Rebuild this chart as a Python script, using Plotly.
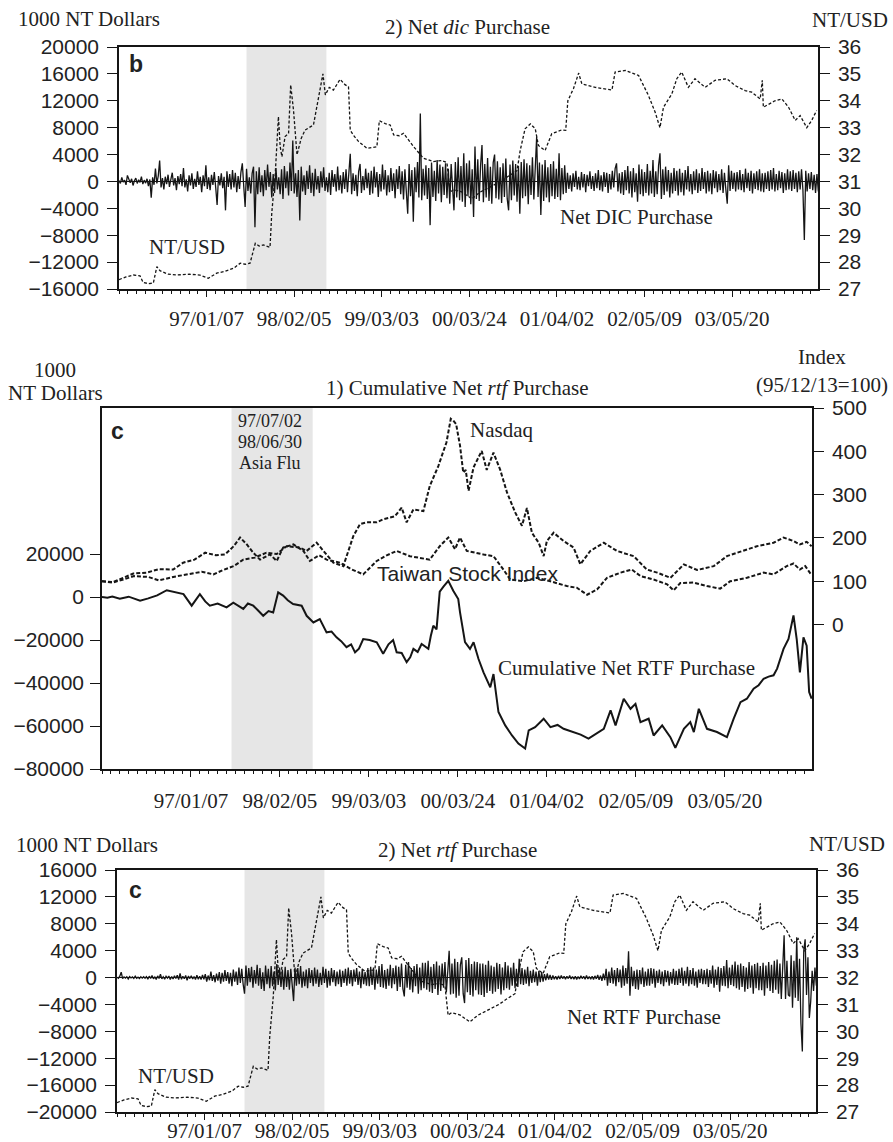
import plotly.graph_objects as go

W, H = 893, 1142

# ---------------- data ----------------
DATE_TICK_OBS = [250, 500, 750, 1000, 1250, 1500, 1750]
DATE_TICK_LABELS = ["97/01/07", "98/02/05", "99/03/03", "00/03/24", "01/04/02", "02/05/09", "03/05/20"]
ASIA_FLU = [364, 592]  # trading-day index of 97/07/02 and 98/06/30

DAILY_STEP = 4
NET_DIC = [
    150, -300, 600, -100, 200, -500, 900, 300, -200, 400, -600, 100, 500, -300, 250, -150, 700, -400, 200, -250,
    400, -700, 300, -2400, 600, -500, 1900, -300, 800, 3100, -900, 500, -1200, 700, -400, 1000, -800, 300, 1300, -600,
    500, -1300, 800, -400, 1100, -700, 2000, -900, 300, -1500, 900, -600, 1200, -1100, 400, -800, 1500, -500, 700, -1600,
    900, -700, 2400, -1100, 600, -1300, 1000, -500, 1400, -900, -3500, 800, -600, 1200, -1000, 700, -4300, 1500, -800, 1100,
    -1200, 1700, -900, 1300, -1600, 800, -1100, 1400, 2700, -700, -3800, 1900, -1400, 600, -1800, 1200, 2200, -6800, 1500, -1900,
    2100, -1600, 900, -2200, 1700, -1300, 2500, -800, 1400, -2400, 1100, -1700, 2000, -1200, 600, -1900, 1800, -2600, 2300, -1000,
    1500, -2100, 2800, -1400, 6100, -1800, 1200, -2300, 1700, -5800, 2200, -1500, 900, -2000, 1600, -1100, 2400, -1700, 1300, -2200,
    1900, -1200, 800, -1700, 1500, -900, 2100, -1400, 600, -1600, 1300, -2000, 1700, -800, 1100, -1500, 2200, -1300, 900, -1800,
    1400, -1100, 1800, -1600, 700, 4100, -1900, 1200, -1400, 1000, -2200, 1500, 2600, -1700, 800, -1300, 1900, -1000, 1300, -2000,
    1600, -1800, 2200, -900, 1400, -2300, 1100, -1500, 2500, -1200, 1700, -2100, 900, -1600, 2000, -1400, 1200, -2500, 1800, -1100,
    2300, -1900, 1500, -2700, 1800, -1300, -4800, 2600, -2200, 1700, -6000, 2100, -1600, 2900, -2400, 10100, -2800, 1900, -2100, 2400,
    -2600, 2000, -6500, 2800, -2300, 1600, -2900, 3200, -1800, 2500, -3100, 2200, -2000, 2700, -2500, 1900, -3300, 2600, -2100, -4300,
    2900, -2400, 3600, -2800, 2300, -3000, 4200, -3800, 2700, -2200, 3100, -3400, 1800, -5300, 5200, -2600, 3300, -2900, 2400, 5400,
    -3100, 2600, -2400, 3500, -2900, 2200, -3300, 2800, 4000, -2500, 3000, -2700, 2100, -3200, 2700, -2300, 3400, -2600, -4300, 2500,
    -2800, 3100, -2100, 2600, -3000, 2300, -4800, 2900, -2500, 3300, -2200, 2700, -3400, 2400, -2000, 3600, -2700, 2200, 6600, -2300,
    2800, -5000, 2500, -2900, 3200, -2400, 2100, -3100, 2600, -2200, 3000, -2600, 1900, -2300, 4200, -2800, 2000, -1900, 2400, -1700,
    1300, -1100, 900, -1500, 1200, -800, 1600, -1200, 700, -1300, 1400, -900, 1100, -1600, 1000, -700, 1500, -1100, 800, -1400,
    1200, -1000, 1700, -1300, 900, -1500, 1400, -800, 1300, -1700, 1100, -1200, 1600, -900, 1900, 2700, -1500, 1200, -1800, 1400,
    -2000, 1700, -1300, 2300, -1800, 1500, -2400, 2000, -1600, 1200, -3000, 2500, -1900, 1800, -2200, 1400, -1700, 2600, -2100, 1600,
    -1800, 3200, -2300, 1500, -1900, 2400, 4200, -2600, 1800, -2000, 2200, -1500, 1700, -2400, 1300, -1800, 2000, -1400, 1600, -2100,
    1900, -1600, 1300, -2100, 1700, -1200, 2300, -1500, 1100, -1900, 1500, -1300, 1800, -1700, 1200, -1400, 2000, -1100, 1400, -1800,
    1600, -1500, 1200, -1900, 1700, -1000, 1500, -1600, 1100, -1300, 1800, -1700, 1300, -1200, -3300, 2400, -1400, 1600, -1100, 1300,
    -1500, 1400, -1200, 1700, -1300, 1100, -1600, 1900, -1000, 1300, -1400, 1600, -1800, 1200, -1100, 1500, -1300, 1800, -1500, 1200,
    -1600, 1300, -1100, 1500, -1400, 1700, -1200, 2000, -1500, 1100, -1300, 1600, -1000, 1400, -1700, 1200, -1300, 1800, -1200, 1500,
    -1400, 1700, -1100, 1300, -1600, 1500, -1200, 1800, -1300, -8700, 1600, -1500, 1200, -1100, 1400, -1300, 1000, -1700, 1100, -1500,
]
NET_RTF = [
    50, -100, 200, 800, -150, 100, -80, 120, -200, 150, -60, 90, -120, 200, -100, 60, -150, 110, -90, 130,
    -100, 150, -250, 200, -120, 300, -180, 100, -300, 250, -150, 500, -200, 120, -260, 180, -100, 220, -300, 150,
    -200, 250, -150, 350, -300, 600, -250, 200, -180, 300, -400, 220, -150, 280, -200, 150, -300, 350, -250, 200,
    -300, 400, -250, 500, -600, 300, -400, 900, -500, 350, -700, 600, -450, 800, -900, 700, -600, 1100, -500, 800,
    -900, 700, -1300, 1200, -600, 900, -1100, 1500, -800, 1300, -1000, -2400, 1800, -1200, 1400, -700, 1600, -1500, 1100, -900,
    1900, -1200, 1400, -1700, 800, -2000, 1800, -1000, 1300, -1600, 1700, -1300, 900, -1900, 2000, -1100, 1500, -1400, 1200, -1800,
    1600, -1400, 1100, -1800, 1300, -900, -3500, 1500, -1200, 1400, -1000, 1700, -1500, 900, -1300, 1200, -1600, 1400, -800, 1100,
    -1300, 1500, -900, 1200, -1400, 700, -1100, 1600, -800, 1300, -1500, 1000, -1200, 1400, -700, 1100, -1300, 900, -1000, 1200,
    -1400, 1000, -800, 1300, -1200, 1500, -900, 1100, -1300, 1200, -600, 1400, -1100, 900, -1600, 1300, -1000, 800, -1200, 1400,
    -1300, 1600, -1100, 1500, -1800, 1200, -900, 1700, -1400, 2000, -1500, 1100, -1700, 1300, -1200, 1900, -1600, 1400, -1000, 1800,
    -2000, 1600, -1400, 2100, -1700, -2800, 1900, -1500, 2300, -1800, 1400, -2200, 1700, -1300, 2000, -2400, 1500, -1900, 2200, -1600,
    2200, -1800, 2500, -2100, 1600, -2300, 2000, -1700, 2400, -2600, 1800, -2000, 2100, -1500, 2300, -2200, 1700, 4000, -2500, 2100,
    -2400, 2800, -3000, 2300, -2700, 1900, 3000, -2400, -3800, 2600, -2200, 2900, -2600, 2000, -2800, 2400, -1900, 2300, -2500, 2100,
    -2600, 2100, -2900, 1900, -2300, 2500, -2000, 1800, -2400, 1600, -2100, 2200, -1700, 2000, -2500, 1500, -1900, 2300, -1600, 1800,
    -1800, 1500, -1200, 2200, -1600, 1300, -1400, 2800, -1000, 1400, -1100, 1200, -900, 1600, -1300, 1000, -800, 1200, -700, 900,
    -1200, 1000, -700, 800, -600, 500, -400, 600, -300, 400, -350, 300, -250, 200, -300, 250, -200, 300, -150, 200,
    -250, 200, -150, 300, -200, 150, -250, 200, -300, 150, -200, 250, -150, 200, -250, 300, -200, 150, -250, 200,
    -300, 250, -200, 400, -350, 300, -500, 600, -400, 1300, -1200, 900, -800, 1500, -900, 1100, -1300, 1400, -700, 1200,
    -1500, 1800, -1200, 1400, -900, 3900, -2700, 1600, -1300, 1000, -1700, 1200, -1800, 1100, -1000, 1500, -1400, 900, -1200, 1300,
    -1200, 1400, -900, 1300, -1500, 1000, -800, 1200, -1000, 900, -1300, 1100, -700, 1000, -1200, 800, -900, 1300, -1100, 1000,
    -1100, 1300, -800, 1500, -1200, 1000, -900, 1600, -1300, 1100, -1000, 1400, -1200, 900, -1500, 1200, -800, 1300, -1000, 1100,
    -1000, 1300, -1400, 1100, -900, 1800, -1500, 1200, -1100, 1600, -2100, 1400, -1200, 1700, -1300, 2600, -1600, 1500, -1100, 1900,
    -1300, 2400, -1600, 1900, -1800, 2100, -1400, 1700, -2100, 1500, -1700, 2300, -1500, 1800, -2400, 2000, -1600, 2200, -1900, 1700,
    -1900, 2200, -2700, 1800, -1600, 2300, -2000, 1900, -2300, 2500, -1800, 2700, -2400, 2100, -3200, 2900, 6300, -3200, 2500, -2600,
    -2800, 3300, -4500, 2500, -3000, 6000, -3500, 2800, -6800, -11000, 4000, 5700, -2600, 3000, -6000, -3500, 1000, -2000, 1500, -1200,
]
DAILY_OBS = [i * DAILY_STEP for i in range(len(NET_DIC))]

NTUSD_OBS = [0, 20, 41, 60, 69, 85, 98, 108, 117, 140, 165, 200, 231, 255, 279, 300, 327, 346, 360, 374,
             389, 400, 412, 431, 436, 446, 455, 460, 465, 474, 484, 490, 498, 508, 520, 531, 555, 569, 582, 589,
             600, 612, 631, 645, 655, 660, 670, 684, 708, 736, 743, 760, 774, 784, 800, 812, 841, 869, 898, 921,
             936, 945, 955, 980, 1007, 1030, 1064, 1090, 1112, 1136, 1145, 1159, 1174, 1188, 1197, 1216, 1235, 1264, 1275, 1281,
             1297, 1312, 1321, 1359, 1407, 1416, 1445, 1483, 1511, 1530, 1544, 1554, 1578, 1592, 1606, 1625, 1644, 1673, 1701, 1735,
             1758, 1787, 1806, 1830, 1836, 1839, 1872, 1892, 1911, 1930, 1944, 1963, 1977, 1991]
NTUSD = [27.35, 27.45, 27.52, 27.49, 27.24, 27.2, 27.22, 27.83, 27.68, 27.55, 27.52, 27.55, 27.52, 27.4, 27.59, 27.65, 27.77, 27.96, 27.92, 27.96,
         28.7, 28.6, 28.64, 28.55, 29.82, 31.3, 33.41, 32.3, 31.92, 32.67, 32.79, 34.59, 33.66, 31.99, 32.6, 32.91, 33.1, 34.03, 35.0, 34.22,
         34.5, 34.4, 34.8, 34.6, 34.52, 32.91, 32.7, 32.48, 32.23, 32.29, 33.26, 33.15, 33.1, 32.73, 32.7, 32.79, 32.29, 31.86, 31.74, 31.78,
         31.7, 30.6, 30.7, 30.6, 30.35, 30.6, 30.84, 31.0, 31.2, 31.4, 32.15, 32.96, 33.14, 32.96, 32.34, 32.15, 32.77, 32.92, 32.9, 34.0,
         34.45, 35.03, 34.63, 34.5, 34.4, 35.07, 35.13, 34.94, 34.2, 33.58, 33.0, 33.76, 34.26, 34.82, 35.07, 34.5, 34.82, 34.5, 34.76, 34.82,
         34.57, 34.38, 34.32, 34.07, 34.76, 33.76, 34.0, 34.07, 33.76, 33.27, 33.45, 33.0, 33.27, 33.64]

CUM_RTF_OBS = [0, 15, 29, 50, 75, 107, 130, 155, 182, 200, 229, 252, 275, 290, 303, 325, 350, 369, 385, 397,
               410, 425, 440, 453, 468, 481, 495, 509, 522, 537, 561, 575, 594, 612, 631, 645, 659, 672, 687, 700,
               711, 722, 734, 752, 772, 790, 805, 818, 828, 842, 856, 866, 875, 887, 898, 917, 924, 931, 940, 949,
               960, 973, 987, 1001, 1006, 1020, 1034, 1044, 1058, 1072, 1091, 1100, 1114, 1133, 1152, 1170, 1189, 1199, 1217, 1241,
               1260, 1280, 1297, 1325, 1345, 1367, 1390, 1410, 1429, 1443, 1466, 1485, 1499, 1513, 1536, 1550, 1574, 1597, 1611, 1635,
               1653, 1663, 1677, 1700, 1728, 1756, 1775, 1794, 1812, 1831, 1845, 1859, 1873, 1887, 1897, 1915, 1929, 1943, 1952, 1961,
               1971, 1980, 1987, 1994]
CUM_RTF = [0, -300, 300, -800, 200, -1700, -600, 800, 3200, 2500, 1400, -4000, 1400, -2000, -4000, -3000, -4800, -2600, -4500, -5500,
           -3000, -4000, -6500, -8700, -6500, -7200, 2200, 700, -1500, -3200, -4000, -8700, -11800, -10200, -16400, -16000, -18700, -20500, -23300, -22000,
           -25700, -24000, -19500, -20000, -21000, -26400, -22000, -20000, -25700, -26000, -30300, -28000, -24100, -25500, -21800, -24100, -18000, -13300, -15000, 2500,
           5000, 7600, 3000, -900, -7100, -21000, -24100, -21000, -28800, -35000, -42000, -35800, -53500, -59700, -64400, -68200, -70500, -62000, -60500, -56600,
           -60500, -59500, -61300, -62800, -64000, -65900, -63500, -61300, -52700, -59700, -47300, -52000, -49700, -58200, -56600, -64400, -59700, -65200, -70200, -61300,
           -58200, -62800, -52000, -61300, -62800, -65200, -56600, -48900, -47300, -42600, -41000, -38000, -37000, -36400, -33300, -24100, -19500, -8500, -19500, -35000,
           -18700, -22600, -44200, -47300]

NASDAQ_OBS = [0, 30, 60, 90, 130, 160, 200, 240, 280, 313, 340, 370, 397, 430, 462, 491, 519, 556, 575, 603,
              631, 650, 678, 706, 725, 744, 772, 790, 823, 842, 856, 875, 903, 921, 945, 968, 980, 987, 995, 1006,
              1015, 1022, 1030, 1044, 1067, 1081, 1100, 1119, 1138, 1161, 1180, 1194, 1208, 1227, 1241, 1250, 1269, 1297, 1325, 1344,
              1372, 1410, 1447, 1494, 1531, 1560, 1597, 1635, 1672, 1719, 1756, 1803, 1840, 1887, 1915, 1943, 1961, 1980, 1994]
NASDAQ = [100, 97, 104, 112, 110, 102, 110, 116, 122, 116, 126, 135, 150, 155, 166, 163, 181, 178, 170, 189,
          160, 143, 135, 204, 232, 236, 236, 243, 250, 270, 236, 266, 262, 320, 366, 421, 475, 471, 463, 413,
          351, 357, 309, 363, 401, 357, 397, 357, 305, 259, 228, 269, 212, 189, 158, 193, 212, 193, 178, 139,
          170, 189, 170, 158, 127, 120, 108, 139, 126, 135, 158, 170, 181, 189, 201, 193, 185, 191, 181]

TAIEX_OBS = [0, 30, 60, 88, 125, 160, 200, 228, 260, 290, 320, 346, 370, 388, 407, 425, 444, 472, 491, 509,
             538, 566, 584, 610, 631, 669, 700, 734, 772, 800, 828, 865, 921, 949, 973, 992, 1006, 1025, 1072, 1100,
             1128, 1147, 1184, 1222, 1260, 1306, 1334, 1363, 1391, 1419, 1457, 1489, 1513, 1550, 1588, 1606, 1625, 1663, 1700, 1737,
             1765, 1812, 1859, 1887, 1924, 1943, 1961, 1976, 1994]
TAIEX = [100, 98, 108, 118, 120, 128, 127, 143, 150, 166, 160, 162, 181, 201, 185, 166, 150, 162, 147, 178,
         185, 170, 147, 160, 150, 143, 128, 116, 147, 160, 170, 158, 150, 181, 201, 174, 201, 170, 162, 158,
         127, 104, 100, 108, 100, 89, 85, 69, 81, 108, 120, 127, 112, 104, 93, 79, 96, 97, 89, 83,
         100, 108, 120, 116, 135, 141, 127, 135, 114]

P1_LEFT_TICKS = [-16000, -12000, -8000, -4000, 0, 4000, 8000, 12000, 16000, 20000]
P1_LEFT_LABELS = ["\u221216000", "\u221212000", "\u22128000", "\u22124000", "0", "4000", "8000", "12000", "16000", "20000"]
P2_LEFT_TICKS = [-80000, -60000, -40000, -20000, 0, 20000]
P2_LEFT_LABELS = ["\u221280000", "\u221260000", "\u221240000", "\u221220000", "0", "20000"]
P2_RIGHT_TICKS = [0, 100, 200, 300, 400, 500]
P3_LEFT_TICKS = [-20000, -16000, -12000, -8000, -4000, 0, 4000, 8000, 12000, 16000]
P3_LEFT_LABELS = ["\u221220000", "\u221216000", "\u221212000", "\u22128000", "\u22124000", "0", "4000", "8000", "12000", "16000"]
NTUSD_TICKS = [27, 28, 29, 30, 31, 32, 33, 34, 35, 36]

# ---------------- styling helpers ----------------
INK = "#151515"
TXT = "#222222"
SERIF = "Liberation Serif"
SANS = "Liberation Sans"


def dx(a, b):
    return [a / W, b / W]


def dy(top, bottom):
    return [1 - bottom / H, 1 - top / H]


def xaxis(domain, anchor, standoff):
    return dict(domain=domain, anchor=anchor, range=[0, 1995], automargin=False,
                tickmode="array", tickvals=DATE_TICK_OBS, ticktext=DATE_TICK_LABELS,
                ticks="outside", ticklen=6, tickwidth=1, tickcolor=INK,
                showline=True, linecolor=INK, linewidth=1.5, mirror=True,
                showgrid=False, zeroline=False, ticklabelstandoff=standoff,
                tickfont=dict(family=SERIF, size=21, color=TXT),
                minor=dict(tickmode="linear", tick0=0, dtick=25, ticks="outside",
                           ticklen=3, tickwidth=1, tickcolor=INK, showgrid=False))


def yaxis(domain, anchor, side, rng, tickvals, ticktext, overlaying=None, zeroline=False, standoff=4):
    d = dict(domain=domain, anchor=anchor, side=side, range=rng, automargin=False,
             tickmode="array", tickvals=tickvals, ticktext=ticktext,
             ticks="outside", ticklen=10, tickwidth=1, tickcolor=INK,
             showline=True, linecolor=INK, linewidth=1.5,
             showgrid=False, zeroline=zeroline, zerolinecolor=INK, zerolinewidth=1,
             ticklabelstandoff=standoff,
             tickfont=dict(family=SANS, size=21, color=TXT))
    if overlaying:
        d["overlaying"] = overlaying
        d.pop("domain")
    return d


fig = go.Figure()

# Panel 1 : Net dic purchase (left) and NT/USD (right)
fig.add_trace(go.Scatter(x=NTUSD_OBS, y=NTUSD, xaxis="x", yaxis="y", mode="lines",
                         line=dict(color=INK, width=1.3, dash="3px,2px")))
fig.add_trace(go.Scatter(x=DAILY_OBS, y=NET_DIC, xaxis="x", yaxis="y2", mode="lines",
                         line=dict(color=INK, width=1.3)))

# Panel 2 : cumulative net rtf purchase (left), Nasdaq & Taiwan index (right)
fig.add_trace(go.Scatter(x=NASDAQ_OBS, y=NASDAQ, xaxis="x2", yaxis="y3", mode="lines",
                         line=dict(color=INK, width=2, dash="4px,2px")))
fig.add_trace(go.Scatter(x=TAIEX_OBS, y=TAIEX, xaxis="x2", yaxis="y3", mode="lines",
                         line=dict(color=INK, width=2, dash="4px,2px")))
fig.add_trace(go.Scatter(x=CUM_RTF_OBS, y=CUM_RTF, xaxis="x2", yaxis="y4", mode="lines",
                         line=dict(color=INK, width=2)))

# Panel 3 : net rtf purchase (left) and NT/USD (right)
fig.add_trace(go.Scatter(x=NTUSD_OBS, y=NTUSD, xaxis="x3", yaxis="y5", mode="lines",
                         line=dict(color=INK, width=1.3, dash="3px,2px")))
fig.add_trace(go.Scatter(x=DAILY_OBS, y=NET_RTF, xaxis="x3", yaxis="y6", mode="lines",
                         line=dict(color=INK, width=1.3)))

P1X, P1Y = dx(119, 818), dy(47, 289)
P2X, P2Y = dx(102, 812), dy(408, 769)
P3X, P3Y = dx(117, 816), dy(870, 1112)

ntusd_labels = [str(v) for v in NTUSD_TICKS]

fig.update_layout(
    width=W, height=H, margin=dict(l=0, r=0, t=0, b=0, autoexpand=False),
    paper_bgcolor="white", plot_bgcolor="white", showlegend=False, hovermode=False,
    xaxis=xaxis(P1X, "y", 4),
    yaxis=yaxis(P1Y, "x", "right", [27, 36], NTUSD_TICKS, ntusd_labels),
    yaxis2=yaxis(P1Y, "x", "left", [-16000, 20000], P1_LEFT_TICKS, P1_LEFT_LABELS, overlaying="y", zeroline=True),
    xaxis2=xaxis(P2X, "y3", 6),
    yaxis3=yaxis(P2Y, "x2", "right", [-333.3, 500], P2_RIGHT_TICKS, [str(v) for v in P2_RIGHT_TICKS]),
    yaxis4=yaxis(P2Y, "x2", "left", [-80000, 88000], P2_LEFT_TICKS, P2_LEFT_LABELS, overlaying="y3", standoff=2),
    xaxis3=xaxis(P3X, "y5", -7),
    yaxis5=yaxis(P3Y, "x3", "right", [27, 36], NTUSD_TICKS, ntusd_labels),
    yaxis6=yaxis(P3Y, "x3", "left", [-20000, 16000], P3_LEFT_TICKS, P3_LEFT_LABELS, overlaying="y5", zeroline=True),
)

# Asia flu shading
for xr, yr in (("x", "y"), ("x2", "y3"), ("x3", "y5")):
    fig.add_shape(type="rect", xref=xr, yref=yr + " domain", x0=ASIA_FLU[0], x1=ASIA_FLU[1], y0=0, y1=1,
                  fillcolor="#e6e6e6", line=dict(width=0), layer="below")


def note(text, x, y, size=21, family=SERIF, xanchor="center"):
    fig.add_annotation(text=text, x=x / W, y=1 - y / H, xref="paper", yref="paper", showarrow=False,
                       xanchor=xanchor, yanchor="middle", font=dict(family=family, size=size, color=TXT))


# panel 1 texts
note("1000 NT Dollars", 89, 19)
note("2) Net <i>dic</i> Purchase", 467, 27)
note("NT/USD", 850, 20)
note("<b>b</b>", 136, 64, size=23, family=SANS)
note("NT/USD", 187, 247)
note("Net DIC Purchase", 636, 217)

# panel 2 texts
note("1000", 55, 370)
note("NT Dollars", 55, 393)
note("1) Cumulative Net <i>rtf</i> Purchase", 457, 388)
note("Index", 822, 357)
note("(95/12/13=100)", 822, 385)
note("<b>c</b>", 117, 431, size=23, family=SANS)
note("97/07/02", 270, 421, size=18)
note("98/06/30", 270, 442, size=18)
note("Asia Flu", 270, 463, size=18)
note("Nasdaq", 502, 430)
note("Taiwan Stock Index", 467, 573, family=SANS)
note("Cumulative Net RTF Purchase", 626, 668)

# panel 3 texts
note("1000 NT Dollars", 87, 845)
note("2) Net <i>rtf</i> Purchase", 458, 850)
note("NT/USD", 847, 844)
note("<b>c</b>", 135, 890, size=23, family=SANS)
note("NT/USD", 176, 1076)
note("Net RTF Purchase", 644, 1017)

fig.write_html("out.html")
